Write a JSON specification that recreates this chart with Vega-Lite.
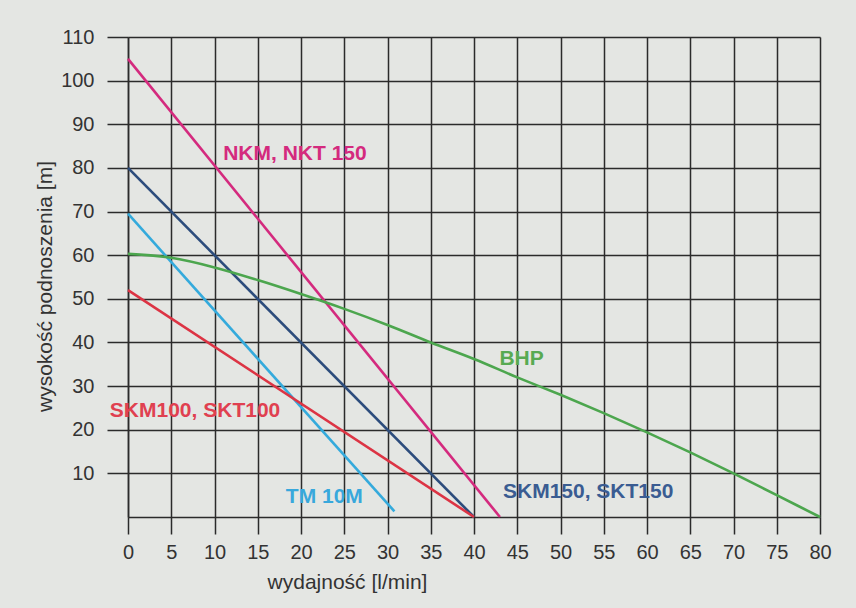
{
  "$schema": "https://vega.github.io/schema/vega-lite/v6.json",
  "autosize": {"type": "none"},
  "width": 692,
  "height": 480,
  "padding": {"left": 128, "top": 37, "right": 36, "bottom": 91},
  "background": "#e4e6e3",
  "config": {
    "font": "Liberation Sans",
    "view": {"stroke": null, "fill": "#e4e6e3"}
  },
  "datasets": {
    "curves": [
      {"series": "NKM", "x": 0, "y": 105},
      {"series": "NKM", "x": 43, "y": 0},
      {"series": "SKM150", "x": 0, "y": 80},
      {"series": "SKM150", "x": 40, "y": 0},
      {"series": "TM", "x": 0, "y": 69.5},
      {"series": "TM", "x": 30.8, "y": 1.3},
      {"series": "SKM100", "x": 0, "y": 52},
      {"series": "SKM100", "x": 40, "y": 0},
      {"series": "BHP", "x": 0, "y": 60.3},
      {"series": "BHP", "x": 5, "y": 59.4},
      {"series": "BHP", "x": 10, "y": 57.2},
      {"series": "BHP", "x": 15, "y": 54.3},
      {"series": "BHP", "x": 20, "y": 51.1},
      {"series": "BHP", "x": 25, "y": 47.7},
      {"series": "BHP", "x": 30, "y": 44},
      {"series": "BHP", "x": 35, "y": 40},
      {"series": "BHP", "x": 40, "y": 36.2},
      {"series": "BHP", "x": 45, "y": 32},
      {"series": "BHP", "x": 50, "y": 28},
      {"series": "BHP", "x": 55, "y": 23.8},
      {"series": "BHP", "x": 60, "y": 19.4},
      {"series": "BHP", "x": 65, "y": 14.8},
      {"series": "BHP", "x": 70, "y": 10},
      {"series": "BHP", "x": 75, "y": 5},
      {"series": "BHP", "x": 80, "y": 0}
    ],
    "labels": [
      {"series": "NKM", "label": "NKM, NKT 150", "x": 19.3, "y": 83.3},
      {"series": "BHP", "label": "BHP", "x": 45.5, "y": 36.3},
      {"series": "SKM100", "label": "SKM100, SKT100", "x": 7.75, "y": 24.3},
      {"series": "TM", "label": "TM 10M", "x": 22.7, "y": 4.6},
      {"series": "SKM150", "label": "SKM150, SKT150", "x": 53.2, "y": 5.7}
    ]
  },
  "layer": [
    {
      "data": {"name": "curves"},
      "mark": {"type": "line", "strokeWidth": 2.6, "interpolate": "monotone", "clip": false},
      "encoding": {
        "x": {
          "field": "x", "type": "quantitative",
          "scale": {"domain": [0, 80], "nice": false, "zero": false},
          "axis": {
            "values": [0, 5, 10, 15, 20, 25, 30, 35, 40, 45, 50, 55, 60, 65, 70, 75, 80],
            "title": "wydajność [l/min]",
            "titleFont": "Liberation Sans",
            "titleFontSize": 21,
            "titleFontWeight": "normal",
            "titleColor": "#333333",
            "titleX": 219,
            "titleY": 54,
            "titleAlign": "center",
            "titleBaseline": "top",
            "grid": true,
            "gridColor": "#2b2b2b",
            "gridWidth": 1.5,
            "gridOpacity": 1,
            "domain": true,
            "domainColor": "#2b2b2b",
            "domainWidth": 1.5,
            "ticks": true,
            "tickSize": 17,
            "tickColor": "#2b2b2b",
            "tickWidth": 1.5,
            "labelFontSize": 20,
            "labelColor": "#333333",
            "labelPadding": 8,
            "labelFlush": false,
            "labelOverlap": false
          }
        },
        "y": {
          "field": "y", "type": "quantitative",
          "scale": {"domain": [0, 110], "nice": false, "zero": true},
          "axis": {
            "values": [10, 20, 30, 40, 50, 60, 70, 80, 90, 100, 110],
            "title": "wysokość podnoszenia [m]",
            "titleFont": "Liberation Sans",
            "titleFontSize": 21,
            "titleFontWeight": "normal",
            "titleColor": "#333333",
            "titleAngle": 270,
            "titleX": -83,
            "titleY": 249,
            "titleAlign": "center",
            "titleBaseline": "middle",
            "grid": true,
            "gridColor": "#2b2b2b",
            "gridWidth": 1.5,
            "gridOpacity": 1,
            "domain": true,
            "domainColor": "#2b2b2b",
            "domainWidth": 1.5,
            "ticks": true,
            "tickSize": 21,
            "tickColor": "#2b2b2b",
            "tickWidth": 1.5,
            "labelFontSize": 20,
            "labelColor": "#333333",
            "labelPadding": 13,
            "labelFlush": false,
            "labelOverlap": false
          }
        },
        "color": {
          "field": "series", "type": "nominal",
          "scale": {
            "domain": ["NKM", "SKM150", "TM", "SKM100", "BHP"],
            "range": ["#d42a7e", "#2c4c7c", "#34aadc", "#dc3444", "#4ca64e"]
          },
          "legend": null
        },
        "detail": {"field": "series"}
      }
    },
    {
      "data": {"name": "labels"},
      "mark": {"type": "text", "fontSize": 21, "fontWeight": "bold", "align": "center", "baseline": "middle", "font": "Liberation Sans", "clip": false},
      "encoding": {
        "x": {"field": "x", "type": "quantitative"},
        "y": {"field": "y", "type": "quantitative"},
        "text": {"field": "label"},
        "color": {
          "field": "series", "type": "nominal",
          "scale": {
            "domain": ["NKM", "SKM150", "TM", "SKM100", "BHP"],
            "range": ["#d42a7e", "#3a5c92", "#38a8dc", "#e04050", "#58aa52"]
          },
          "legend": null
        }
      }
    }
  ],
  "resolve": {"scale": {"color": "independent"}}
}
